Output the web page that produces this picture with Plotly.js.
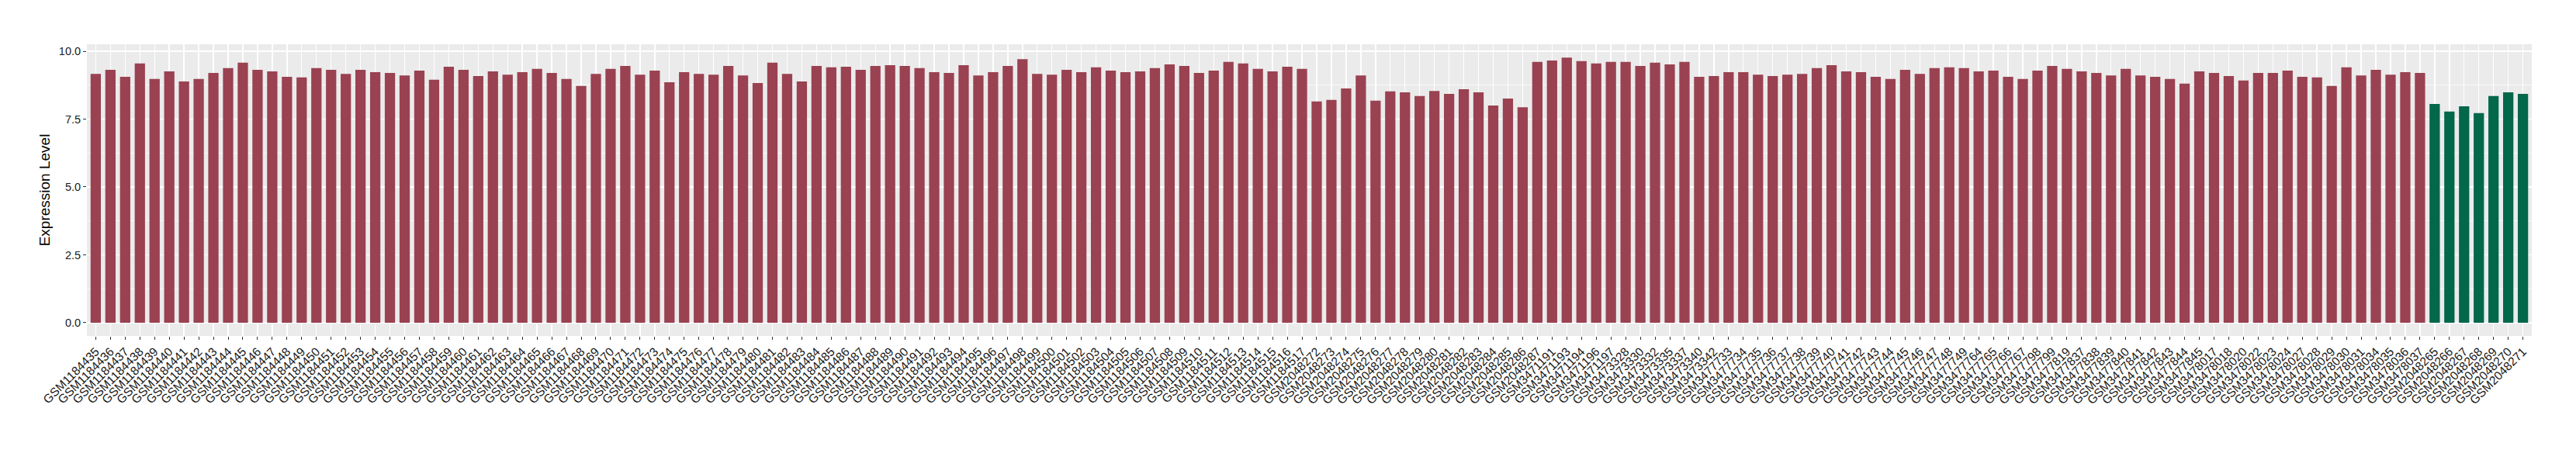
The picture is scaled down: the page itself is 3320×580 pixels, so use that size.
<!DOCTYPE html>
<html>
<head>
<meta charset="utf-8">
<script src="https://cdn.plot.ly/plotly-3.0.1.min.js"></script>
<style>html,body{margin:0;padding:0;background:#fff;}#chart{width:3320px;height:580px;}</style>
</head>
<body>
<div id="chart"></div>
<script>
// Samples shown in the first (red) group
var redSamples = [
"GSM1184435","GSM1184436","GSM1184437","GSM1184438","GSM1184439","GSM1184440","GSM1184441","GSM1184442","GSM1184443","GSM1184444",
"GSM1184445","GSM1184446","GSM1184447","GSM1184448","GSM1184449","GSM1184450","GSM1184451","GSM1184452","GSM1184453","GSM1184454",
"GSM1184455","GSM1184456","GSM1184457","GSM1184458","GSM1184459","GSM1184460","GSM1184461","GSM1184462","GSM1184463","GSM1184464",
"GSM1184465","GSM1184466","GSM1184467","GSM1184468","GSM1184469","GSM1184470","GSM1184471","GSM1184472","GSM1184473","GSM1184474",
"GSM1184475","GSM1184476","GSM1184477","GSM1184478","GSM1184479","GSM1184480","GSM1184481","GSM1184482","GSM1184483","GSM1184484",
"GSM1184485","GSM1184486","GSM1184487","GSM1184488","GSM1184489","GSM1184490","GSM1184491","GSM1184492","GSM1184493","GSM1184494",
"GSM1184495","GSM1184496","GSM1184497","GSM1184498","GSM1184499","GSM1184500","GSM1184501","GSM1184502","GSM1184503","GSM1184504",
"GSM1184505","GSM1184506","GSM1184507","GSM1184508","GSM1184509","GSM1184510","GSM1184511","GSM1184512","GSM1184513","GSM1184514",
"GSM1184515","GSM1184516","GSM1184517",
"GSM2048272","GSM2048273","GSM2048274","GSM2048275","GSM2048276","GSM2048277","GSM2048278","GSM2048279","GSM2048280","GSM2048281",
"GSM2048282","GSM2048283","GSM2048284","GSM2048285","GSM2048286","GSM2048287",
"GSM3471191","GSM3471193","GSM3471194","GSM3471196","GSM3471197",
"GSM3473328","GSM3473330","GSM3473332","GSM3473335","GSM3473337","GSM3473340","GSM3473342",
"GSM3477733","GSM3477734","GSM3477735","GSM3477736","GSM3477737","GSM3477738","GSM3477739","GSM3477740","GSM3477741","GSM3477742",
"GSM3477743","GSM3477744","GSM3477745","GSM3477746","GSM3477747","GSM3477748","GSM3477749",
"GSM3477764","GSM3477765","GSM3477766","GSM3477767","GSM3477798","GSM3477799","GSM3477819",
"GSM3477837","GSM3477838","GSM3477839","GSM3477840","GSM3477841","GSM3477842","GSM3477843","GSM3477844","GSM3477845",
"GSM3478017","GSM3478018","GSM3478020","GSM3478022","GSM3478023","GSM3478024","GSM3478027","GSM3478028","GSM3478029","GSM3478030",
"GSM3478031","GSM3478034","GSM3478035","GSM3478036","GSM3478037"
];
var redValues = [
9.17,9.32,9.06,9.55,8.98,9.26,8.89,8.98,9.20,9.38,
9.58,9.32,9.26,9.06,9.04,9.38,9.32,9.17,9.32,9.23,
9.20,9.11,9.29,8.95,9.43,9.32,9.09,9.26,9.14,9.23,
9.35,9.20,8.98,8.72,9.17,9.35,9.46,9.14,9.29,8.86,
9.23,9.17,9.14,9.46,9.11,8.83,9.58,9.17,8.89,9.46,
9.41,9.43,9.32,9.46,9.49,9.46,9.38,9.23,9.20,9.49,
9.11,9.23,9.46,9.71,9.17,9.14,9.32,9.23,9.41,9.29,
9.23,9.26,9.38,9.52,9.46,9.20,9.29,9.61,9.55,9.35,
9.26,9.43,9.35,
8.15,8.21,8.63,9.11,8.18,8.52,8.49,8.35,8.54,8.43,
8.60,8.49,8.00,8.26,7.94,9.61,
9.66,9.77,9.64,9.55,9.61,
9.61,9.46,9.58,9.52,9.61,9.06,9.09,
9.23,9.23,9.14,9.09,9.14,9.17,9.38,9.49,9.26,9.23,
9.06,8.98,9.32,9.17,9.38,9.41,9.38,
9.26,9.29,9.06,8.98,9.29,9.46,9.35,
9.26,9.20,9.11,9.35,9.11,9.06,8.98,8.81,9.26,
9.20,9.09,8.92,9.20,9.20,9.29,9.06,9.04,8.72,9.41,
9.11,9.32,9.14,9.23,9.20
];
// Samples shown in the second (green) group
var greenSamples = ["GSM2048265","GSM2048266","GSM2048267","GSM2048268","GSM2048269","GSM2048270","GSM2048271"];
var greenValues = [8.06,7.78,7.97,7.72,8.35,8.49,8.43];

var yTickVals = [0, 2.5, 5, 7.5, 10];
var yTickText = ["0.0", "2.5", "5.0", "7.5", "10.0"];
var yMinorVals = [1.25, 3.75, 6.25, 8.75];
var yTitle = "Expression Level";

var allSamples = redSamples.concat(greenSamples);
var FONT = "Liberation Sans, Arial, Helvetica, sans-serif";

var traces = [
  {type: "bar", x: redSamples, y: redValues, width: 0.7,
   marker: {color: "#9A4251", line: {width: 0}}, hoverinfo: "x+y", showlegend: false},
  {type: "bar", x: greenSamples, y: greenValues, width: 0.7,
   marker: {color: "#03674A", line: {width: 0}}, hoverinfo: "x+y", showlegend: false}
];

var layout = {
  width: 3320, height: 580,
  margin: {l: 112, r: 57, t: 57, b: 147, pad: 0},
  paper_bgcolor: "#FFFFFF",
  plot_bgcolor: "#EBEBEB",
  barmode: "overlay",
  showlegend: false,
  font: {family: FONT, color: "#1A1A1A"},
  xaxis: {
    type: "category",
    categoryorder: "array",
    categoryarray: allSamples,
    tickmode: "array",
    tickvals: allSamples,
    ticktext: allSamples,
    range: [-0.6, allSamples.length - 0.4],
    tickangle: -45,
    tickfont: {family: FONT, size: 15.5, color: "#1A1A1A"},
    ticks: "outside", ticklen: 4, tickwidth: 1, tickcolor: "#333333",
    showgrid: true, gridcolor: "#FFFFFF", gridwidth: 1.4,
    zeroline: false, showline: false, automargin: false, fixedrange: true
  },
  yaxis: {
    range: [-0.489, 10.26],
    tickmode: "array", tickvals: yTickVals, ticktext: yTickText,
    tickfont: {family: FONT, size: 14.5, color: "#1A1A1A"},
    ticks: "outside", ticklen: 4, tickwidth: 1, tickcolor: "#333333",
    showgrid: true, gridcolor: "#FFFFFF", gridwidth: 1.4,
    minor: {tickmode: "array", tickvals: yMinorVals, showgrid: true, gridcolor: "#FFFFFF", gridwidth: 0.7, ticks: ""},
    zeroline: false, showline: false, automargin: false, fixedrange: true,
    title: {text: yTitle, font: {family: FONT, size: 19, color: "#000000"}, standoff: 6}
  }
};

Plotly.newPlot("chart", traces, layout, {staticPlot: true, displayModeBar: false});
</script>
</body>
</html>
